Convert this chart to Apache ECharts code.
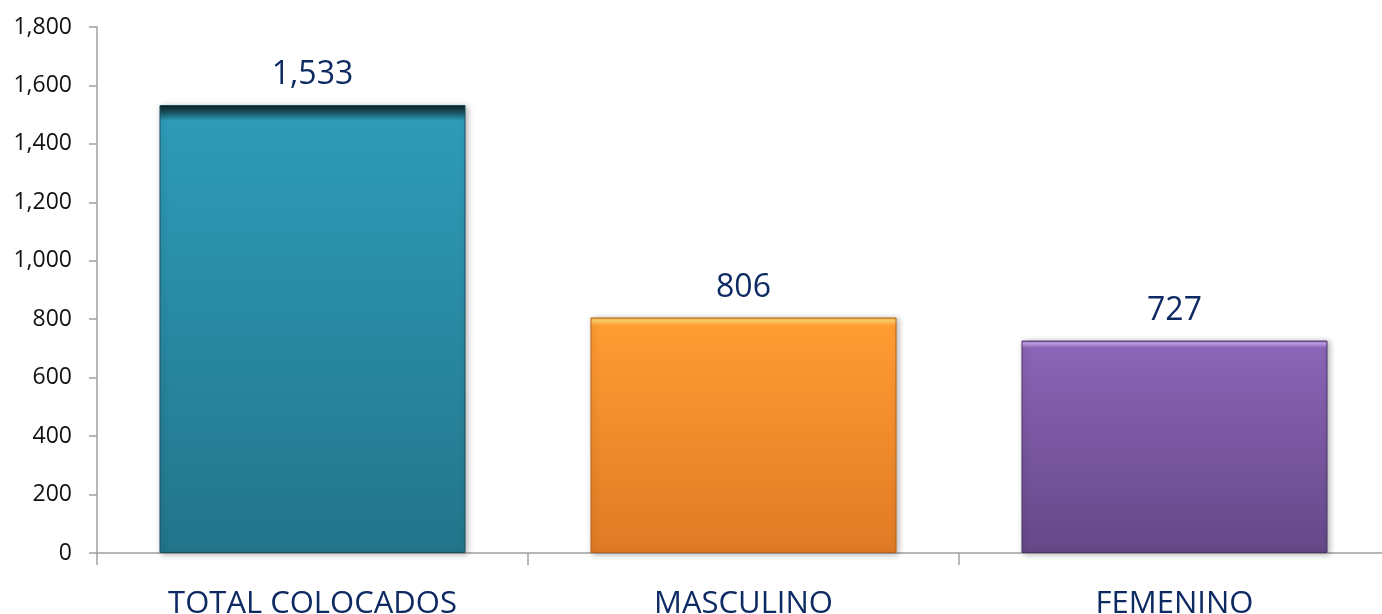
<!DOCTYPE html>
<html>
<head>
<meta charset="utf-8">
<script src="https://cdn.jsdelivr.net/npm/echarts@6/dist/echarts.min.js"></script>
<style>
html,body{margin:0;padding:0;background:#fff;width:1382px;height:614px;overflow:hidden;}
#chart{width:1382px;height:614px;display:block;}
</style>
</head>
<body>
<div id="chart"></div>
<script>
const categories = ['TOTAL COLOCADOS', 'MASCULINO', 'FEMENINO'];
const values = [1533, 806, 727];
const yTicks = [0, 200, 400, 600, 800, 1000, 1200, 1400, 1600, 1800];

const fills = [
  [[0, '#0a1c22'], [0.02, '#1d5f70'], [0.035, '#2e9bb8'], [1, '#22758a']],
  [[0, '#e8a040'], [0.012, '#ffd36a'], [0.035, '#ff9c32'], [1, '#e07a25']],
  [[0, '#7a56a8'], [0.012, '#c4a4ec'], [0.035, '#8a64b6'], [1, '#654888']]
];
const edges = ['#1a4f5e', '#b86418', '#4a3468'];

function fmt(v) { return String(v).replace(/\B(?=(\d{3})+(?!\d))/g, ','); }

const chart = echarts.init(document.getElementById('chart'));
chart.setOption({
  animation: false,
  backgroundColor: '#ffffff',
  grid: { left: 97, top: 27, width: 1293, height: 526, containLabel: false, outerBoundsMode: 'none' },
  xAxis: {
    type: 'category',
    data: categories,
    axisLine: { show: true, lineStyle: { color: '#a0a0a0', width: 1.5 } },
    axisTick: { show: true, alignWithLabel: false, length: 12, lineStyle: { color: '#a0a0a0', width: 1.5 } },
    axisLabel: { margin: 36, fontSize: 31, color: '#0d2a62', fontFamily: 'Open Sans' }
  },
  yAxis: {
    type: 'value',
    min: yTicks[0],
    max: yTicks[yTicks.length - 1],
    interval: 200,
    axisLine: { show: true, lineStyle: { color: '#a0a0a0', width: 1.5 } },
    axisTick: { show: true, length: 8, lineStyle: { color: '#a0a0a0', width: 1.5 } },
    splitLine: { show: false },
    axisLabel: { margin: 25, fontSize: 23, color: '#111', fontFamily: 'Open Sans', formatter: fmt }
  },
  series: [{
    type: 'bar',
    barWidth: '71%',
    data: values.map((v, i) => ({
      value: v,
      itemStyle: {
        color: new echarts.graphic.LinearGradient(0, 0, 0, 1, fills[i].map(s => ({ offset: s[0], color: s[1] }))),
        borderColor: edges[i],
        borderWidth: 1,
        shadowBlur: 6,
        shadowOffsetX: 2,
        shadowOffsetY: 1,
        shadowColor: 'rgba(0,0,0,0.3)'
      }
    })),
    label: {
      show: true,
      position: 'top',
      distance: 14,
      fontSize: 32,
      color: '#0d2a62',
      fontFamily: 'Open Sans',
      formatter: p => fmt(p.value)
    }
  }]
});
</script>
</body>
</html>
